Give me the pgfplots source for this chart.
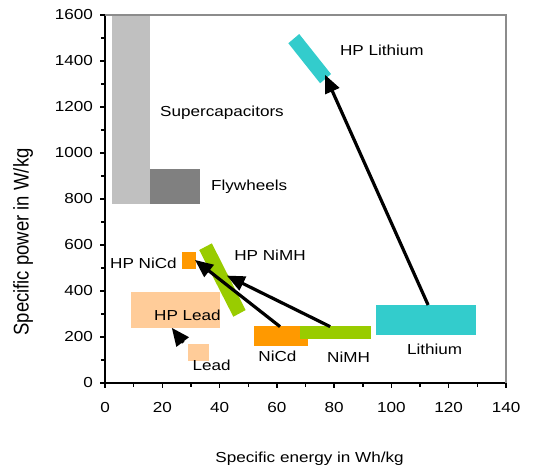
\documentclass[border=0pt]{standalone}
\usepackage{fontspec}
\setmainfont{Liberation Sans}[FakeStretch=1.18]
\newfontfamily\plainfont{Liberation Sans}
\usepackage{graphicx}
\usepackage{pgfplots}
\pgfplotsset{compat=1.18}
\usetikzlibrary{arrows.meta}
\definecolor{supcap}{HTML}{C0C0C0}
\definecolor{flyw}{HTML}{808080}
\definecolor{orng}{HTML}{FF9900}
\definecolor{grn}{HTML}{99CC00}
\definecolor{cyn}{HTML}{33CCCC}
\definecolor{peach}{HTML}{FFCC99}
\definecolor{frame}{HTML}{8C8C8C}
\tikzset{bigarrow/.style={black, line width=3.2bp, arrows={-Triangle[length=18bp,width=15bp]}}}
\begin{document}
\fontsize{14.5bp}{17bp}\selectfont
\begin{tikzpicture}
\begin{axis}[
  scale only axis, width=401bp, height=368bp,
  xmin=0, xmax=140, ymin=0, ymax=1600,
  axis x line*=bottom, axis y line*=left,
  axis line style={line width=2bp, black},
  xtick={0,20,...,140}, ytick={0,200,...,1600},
  minor x tick num=1, minor y tick num=1,
  tick align=outside, major tick length=5bp, minor tick length=4bp,
  tick style={black, line width=1.4bp},
  /pgf/number format/assume math mode=true,
  /pgf/number format/1000 sep={},
  xticklabel style={yshift=-9bp},
  yticklabel style={xshift=-2bp},
  clip=false,
]
% bounding box matching reference proportions
\path (axis cs:-36.66,-395.6) rectangle (axis cs:155.7,1665);

% regions
\addplot[fill=supcap, draw=none] coordinates {(2.5,780) (15.6,780) (15.6,1600) (2.5,1600)} -- cycle;
\addplot[fill=flyw, draw=none] coordinates {(15.6,780) (33,780) (33,930) (15.6,930)} -- cycle;
\addplot[fill=peach, draw=none] coordinates {(9,240) (40,240) (40,397) (9,397)} -- cycle;
\addplot[fill=peach, draw=none] coordinates {(29,97) (36.2,97) (36.2,170) (29,170)} -- cycle;
\addplot[fill=orng, draw=none] coordinates {(52,160) (71,160) (71,248) (52,248)} -- cycle;
\addplot[fill=grn, draw=none] coordinates {(68,190) (93,190) (93,248) (68,248)} -- cycle;
\addplot[fill=orng, draw=none] coordinates {(27,496) (31.8,496) (31.8,570) (27,570)} -- cycle;
\addplot[fill=grn, draw=none] coordinates {(32.9,578) (37.3,607) (49.1,317) (44.8,288)} -- cycle;
\addplot[fill=cyn, draw=none] coordinates {(94.6,209) (129.5,209) (129.5,340) (94.6,340)} -- cycle;
\addplot[fill=cyn, draw=none] coordinates {(64.0,1477) (67.8,1517) (78.9,1343) (75.1,1303)} -- cycle;

% arrows
\addplot[bigarrow] coordinates {(112.8,339) (76.8,1340)};
\addplot[bigarrow] coordinates {(78.6,245) (42.5,467)};
\addplot[bigarrow] coordinates {(61.1,245) (31.4,535)};
\addplot[bigarrow] coordinates {(27.3,175) (23.3,240)};

% frame top/right
\draw[frame, line width=2bp] (rel axis cs:0,1) -- (rel axis cs:1,1) -- (rel axis cs:1,0);

% labels
\node[anchor=west] at (axis cs:17.5,1174) {Supercapacitors};
\node[anchor=west] at (axis cs:35.3,852) {Flywheels};
\node[anchor=west] at (axis cs:80.3,1448) {HP Lithium};
\node[anchor=east] at (axis cs:26.8,522) {HP NiCd};
\node[anchor=west] at (axis cs:43.4,557) {HP NiMH};
\node[anchor=west] at (axis cs:15.4,296) {HP Lead};
\node[anchor=west] at (axis cs:51.8,114) {NiCd};
\node[anchor=west] at (axis cs:75.8,114) {NiMH};
\node[anchor=west] at (axis cs:28.8,78) {Lead};
\node[anchor=west] at (axis cs:103.7,148) {Lithium};

\node at (axis cs:71.4,-330) {Specific energy in Wh/kg};
\node[rotate=90] at (axis cs:-28.6,613) {\scalebox{1}[1.15]{\fontsize{18.5bp}{20bp}\plainfont Specific power in W/kg}};
\end{axis}
\end{tikzpicture}
\end{document}
